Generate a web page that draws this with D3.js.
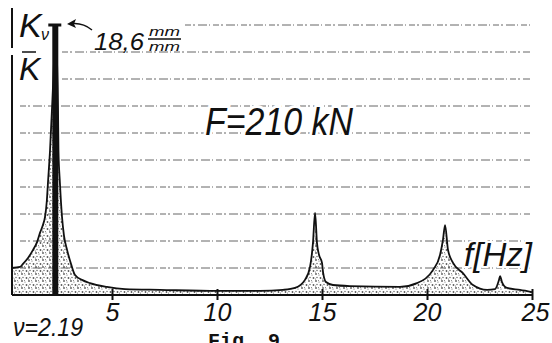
<!DOCTYPE html>
<html><head><meta charset="utf-8">
<script src="https://cdn.jsdelivr.net/npm/d3@7"></script>
<style>
html,body{margin:0;padding:0;background:#fff;}
svg text{font-family:"Liberation Sans",Arial,sans-serif;fill:#111;}
</style></head>
<body><svg id="c" width="552" height="343"></svg>
<script>
// Frequency (Hz) of the response curve points
const freq = [0.24,0.62,0.76,1.0,1.24,1.43,1.57,1.71,1.81,1.90,1.95,2.05,2.14,2.24,2.29,2.38,2.43,2.45,2.52,2.62,2.71,2.86,3.05,3.24,3.57,3.95,4.76,5.62,7.29,10.05,12.05,13.14,13.71,14.19,14.43,14.57,14.67,14.76,14.86,15.0,15.05,15.19,15.52,16.33,18.71,19.52,20.29,20.62,20.76,20.86,21.0,21.24,21.71,22.19,22.86,23.24,23.43,23.48,23.57,23.81,24.43,25.0];
// Amplification ratio Kv/K (grid units, 10 = 18.6 mm/mm)
const ampl = [1.0,1.04,1.15,1.37,1.67,1.96,2.30,2.59,2.89,3.52,4.15,5.37,6.85,8.7,10.0,8.7,6.85,5.37,4.15,2.89,2.22,1.67,1.15,0.74,0.56,0.44,0.30,0.22,0.19,0.15,0.15,0.19,0.26,0.56,1.04,1.93,3.04,1.93,1.48,1.19,0.85,0.48,0.37,0.33,0.30,0.44,0.93,1.48,2.04,2.59,1.67,1.19,0.81,0.37,0.19,0.22,0.56,0.70,0.48,0.26,0.19,0.11];
const resonanceFreq = [2.3];
const resonanceAmp = [10];
const xTicks = [5,10,15,20,25];
const gridLevels = [1,2,3,4,5,6,7,8,9,10];
const xDomain = [0,25];
const yDomain = [0,10];

const svg = d3.select("#c");
const x = d3.scaleLinear().domain(xDomain).range([7,532]);
const y = d3.scaleLinear().domain(yDomain).range([295,25]);

// stipple pattern
const defs = svg.append("defs");
const pat = defs.append("pattern").attr("id","stip").attr("patternUnits","userSpaceOnUse").attr("width",7).attr("height",7);
[[1,1,0.9],[4,2,0.6],[2,4.5,0.7],[5.5,5,0.9],[0.5,6,0.5],[3.5,0.3,0.5]].forEach(d=>{
  pat.append("circle").attr("cx",d[0]).attr("cy",d[1]).attr("r",d[2]).attr("fill","#222");
});

// gridlines
gridLevels.forEach(g=>{
  const x0 = g===10 ? 185 : (g>=8 ? 62 : 20);
  svg.append("line").attr("x1",x0).attr("x2",530).attr("y1",y(g)).attr("y2",y(g))
    .attr("stroke","#666").attr("stroke-width",1).attr("stroke-dasharray","6 2 2 3 9 2 1 3");
});

const pts = freq.map((f,i)=>[f,ampl[i]]);
const area = d3.area().x(d=>x(d[0])).y0(y(0)).y1(d=>y(d[1])).curve(d3.curveMonotoneX);
const line = d3.line().x(d=>x(d[0])).y(d=>y(d[1])).curve(d3.curveMonotoneX);
svg.append("path").datum(pts).attr("d",area).attr("fill","url(#stip)").attr("opacity",0.75);
svg.append("path").datum(pts).attr("d",line).attr("fill","none").attr("stroke","#111").attr("stroke-width",1.8);

// resonance bar
svg.selectAll(".res").data(resonanceFreq).enter().append("rect")
  .attr("x",d=>x(d)-3).attr("width",6).attr("y",(d,i)=>y(resonanceAmp[i])).attr("height",(d,i)=>y(0)-y(resonanceAmp[i]))
  .attr("fill","#111");
svg.selectAll(".cap").data(resonanceFreq).enter().append("line")
  .attr("x1",d=>x(d)-7).attr("x2",d=>x(d)+6).attr("y1",(d,i)=>y(resonanceAmp[i])).attr("y2",(d,i)=>y(resonanceAmp[i]))
  .attr("stroke","#111").attr("stroke-width",3);

// axes lines
svg.append("line").attr("x1",12).attr("x2",12).attr("y1",8).attr("y2",48).attr("stroke","#111").attr("stroke-width",2);
svg.append("line").attr("x1",12).attr("x2",12).attr("y1",55).attr("y2",295).attr("stroke","#111").attr("stroke-width",2);
svg.append("line").attr("x1",12).attr("x2",532).attr("y1",295).attr("y2",295).attr("stroke","#111").attr("stroke-width",2);

const ax = svg.append("g").attr("transform","translate(0,295)")
  .call(d3.axisBottom(x).tickValues(xTicks).tickSize(0).tickPadding(26).tickFormat(d3.format("d")));
ax.select(".domain").remove();
ax.selectAll("text").attr("font-size",25).style("font-family","Liberation Sans").style("font-style","italic").attr("fill","#111").attr("dy","0");
ax.selectAll(".tick").filter(d=>d===25).select("text").attr("dx",3);
ax.selectAll(".tick").append("line").attr("y1",-6).attr("y2",5).attr("stroke","#111").attr("stroke-width",2);

const it = sel => sel.style("font-style","italic");
// labels
it(svg.append("text").attr("x",19).attr("y",37).attr("font-size",34).text("K"));
it(svg.append("text").attr("x",41).attr("y",40).attr("font-size",16).text("ν"));
svg.append("line").attr("x1",22).attr("x2",36).attr("y1",52).attr("y2",52).attr("stroke","#111").attr("stroke-width",1.5);
it(svg.append("text").attr("x",19).attr("y",80).attr("font-size",32).text("K"));

svg.append("path").attr("d","M92,30 Q82,22 70,24").attr("fill","none").attr("stroke","#111").attr("stroke-width",1.5);
svg.append("path").attr("d","M67,24 L76,19 L74,24 L76,28 Z").attr("fill","#111");
it(svg.append("text").attr("x",94).attr("y",50).attr("font-size",24).attr("textLength",50).attr("lengthAdjust","spacingAndGlyphs").text("18,6"));
it(svg.append("text").attr("x",149).attr("y",36).attr("font-size",13).attr("textLength",31).attr("lengthAdjust","spacingAndGlyphs").text("mm"));
svg.append("line").attr("x1",148).attr("x2",181).attr("y1",39).attr("y2",39).attr("stroke","#111").attr("stroke-width",1.5);
it(svg.append("text").attr("x",149).attr("y",51).attr("font-size",13).attr("textLength",31).attr("lengthAdjust","spacingAndGlyphs").text("mm"));

it(svg.append("text").attr("x",205).attr("y",135).attr("font-size",38).attr("textLength",148).attr("lengthAdjust","spacingAndGlyphs")
  .attr("stroke","#fff").attr("stroke-width",6).attr("paint-order","stroke").text("F=210 kN"));
it(svg.append("text").attr("x",464).attr("y",266).attr("font-size",34).attr("textLength",68).attr("lengthAdjust","spacingAndGlyphs")
  .attr("stroke","#fff").attr("stroke-width",4).attr("paint-order","stroke").text("f[Hz]"));
it(svg.append("text").attr("x",13).attr("y",336).attr("font-size",26).attr("textLength",70).attr("lengthAdjust","spacingAndGlyphs").text("ν=2.19"));
svg.append("text").attr("x",208).attr("y",347).attr("font-size",20).style("font-style","normal").style("font-weight","bold")
  .style("font-family","Liberation Mono").text("Fig. 9");
</script></body></html>
